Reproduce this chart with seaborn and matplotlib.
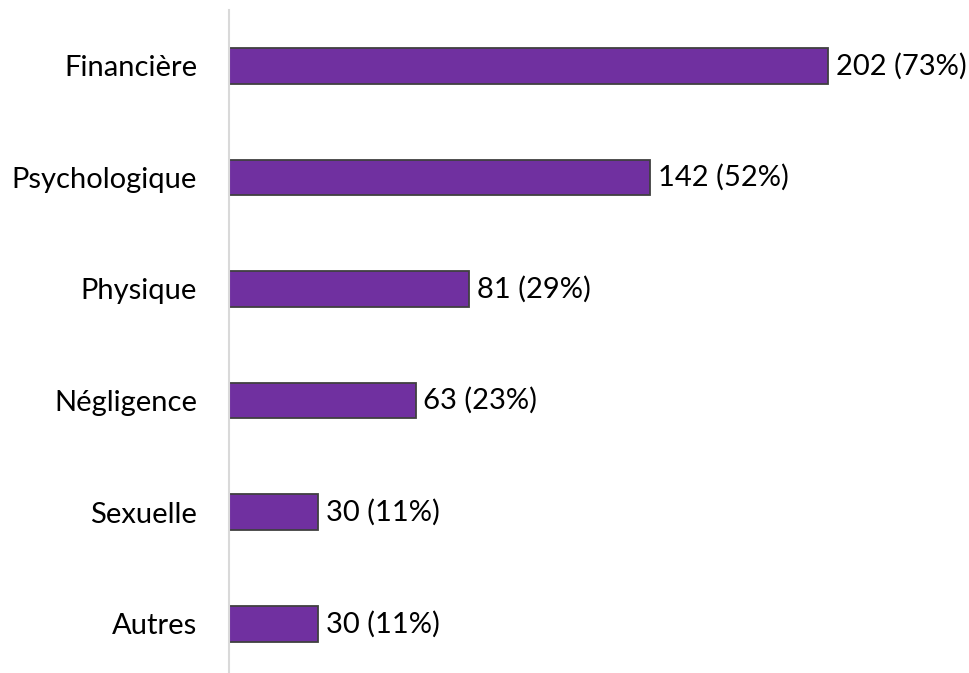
import matplotlib
matplotlib.use("Agg")
import matplotlib.pyplot as plt
import seaborn as sns
import pandas as pd

# Types of abuse reported
categories = ["Financière", "Psychologique", "Physique", "Négligence", "Sexuelle", "Autres"]
counts = [202, 142, 81, 63, 30, 30]
percents = [73, 52, 29, 23, 11, 11]

df = pd.DataFrame({"type": categories, "n": counts, "pct": percents})

sns.set_theme(style="white")
plt.rcParams["font.family"] = ["Lato", "DejaVu Sans"]

W, H = 969, 673
fig = plt.figure(figsize=(W / 100, H / 100), dpi=100)
px_per_unit = 2.965
left_px, top_px, spacing = 229, 10, 111.6
ax_h = spacing * len(categories)
ax = fig.add_axes([left_px / W, (H - top_px - ax_h) / H, (W - left_px) / W, ax_h / H])

sns.barplot(data=df, x="n", y="type", orient="h", color="#7030A0", saturation=1,
            width=0.32, edgecolor="#404040", linewidth=1.3, ax=ax)

ax.set_xlim(0, (W - left_px) / px_per_unit)
ax.set_ylim(len(categories) - 0.5, -0.5)

for i, (n, p) in enumerate(zip(counts, percents)):
    ax.annotate(f"{n} ({p}%)", xy=(n, i), xytext=(5.5, 0), textcoords="offset points",
                va="center", ha="left", fontsize=21, color="black")

ax.set_xlabel("")
ax.set_ylabel("")
ax.set_xticks([])
ax.tick_params(axis="y", length=0, pad=23, labelsize=21, labelcolor="black")
for side in ["top", "right", "bottom"]:
    ax.spines[side].set_visible(False)
ax.spines["left"].set_color("#D9D9D9")
ax.spines["left"].set_linewidth(1.5)

fig.savefig("out.png", dpi=100)
